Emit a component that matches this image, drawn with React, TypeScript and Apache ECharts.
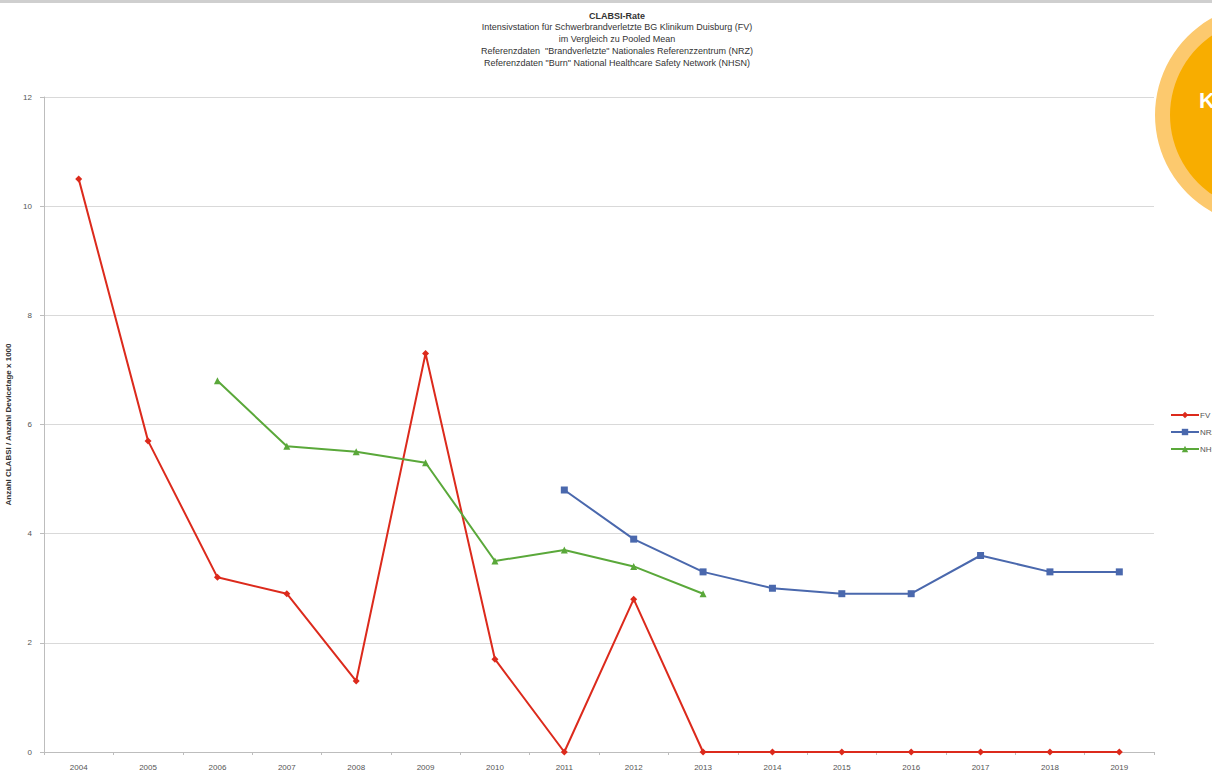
import React, { useEffect, useRef } from "react";
import * as echarts from "echarts";

const years = ["2004","2005","2006","2007","2008","2009","2010","2011","2012","2013","2014","2015","2016","2017","2018","2019"];
const fv = [10.5, 5.7, 3.2, 2.9, 1.3, 7.3, 1.7, 0, 2.8, 0, 0, 0, 0, 0, 0, 0];
const nrz = [null, null, null, null, null, null, null, 4.8, 3.9, 3.3, 3.0, 2.9, 2.9, 3.6, 3.3, 3.3];
const nhsn = [null, null, 6.8, 5.6, 5.5, 5.3, 3.5, 3.7, 3.4, 2.9, null, null, null, null, null, null];
const yTicks = [0, 2, 4, 6, 8, 10, 12];

export default function App() {
  const ref = useRef<HTMLDivElement>(null);
  useEffect(() => {
    if (!ref.current) return;
    const chart = echarts.init(ref.current, null, { renderer: "svg" });
    const font = "Liberation Sans, Arial, sans-serif";
    chart.setOption({
      animation: false,
      backgroundColor: "#ffffff",
      textStyle: { fontFamily: font },
      title: {
        text: "CLABSI-Rate",
        subtext:
          "Intensivstation für Schwerbrandverletzte BG Klinikum Duisburg (FV)\nim Vergleich zu Pooled Mean\nReferenzdaten  \"Brandverletzte\" Nationales Referenzzentrum (NRZ)\nReferenzdaten \"Burn\" National Healthcare Safety Network (NHSN)",
        left: 612,
        textAlign: "center",
        top: 6,
        itemGap: 1,
        textStyle: { fontSize: 9, fontWeight: "bold", color: "#333", fontFamily: font },
        subtextStyle: { fontSize: 9, color: "#333", lineHeight: 12, fontFamily: font },
      },
      legend: {
        orient: "vertical",
        left: 1165,
        top: 406,
        itemGap: 9,
        itemWidth: 28,
        itemHeight: 8,
        inactiveColor: "#555",
        textStyle: { fontSize: 8, color: "#555", padding: [0, 0, 0, -4] },
        data: ["FV", "NRZ", "NHSN"],
      },
      grid: { left: 44, right: 58, top: 97, bottom: 25, containLabel: false, outerBoundsMode: "none" },
      xAxis: {
        type: "category",
        data: years,
        boundaryGap: true,
        axisLine: { lineStyle: { color: "#bdbdbd", width: 1 } },
        axisTick: { show: true, length: 3, lineStyle: { color: "#bdbdbd" } },
        axisLabel: { fontSize: 8, color: "#555", margin: 11 },
      },
      yAxis: {
        type: "value",
        min: 0,
        max: 12,
        interval: 2,
        name: "Anzahl CLABSI / Anzahl Devicetage x 1000",
        nameLocation: "middle",
        nameGap: 29,
        nameTextStyle: { fontSize: 8, fontWeight: "bold", color: "#333" },
        axisLine: { show: true, lineStyle: { color: "#bdbdbd" } },
        axisTick: { show: true, length: 4, lineStyle: { color: "#bdbdbd" } },
        axisLabel: {
          fontSize: 8,
          color: "#555",
          margin: 12,
          formatter: (v: number) => (yTicks.includes(v) ? String(v) : ""),
        },
        splitLine: { lineStyle: { color: "#d9d9d9", width: 1 } },
      },
      series: [
        {
          name: "FV",
          type: "line",
          data: fv,
          color: "#dc2a1c",
          symbol: "diamond",
          symbolSize: 7,
          lineStyle: { width: 2, color: "#dc2a1c" },
          itemStyle: { color: "#dc2a1c" },
        },
        {
          name: "NRZ",
          type: "line",
          data: nrz,
          color: "#4a68ad",
          symbol: "rect",
          symbolSize: 7,
          lineStyle: { width: 2, color: "#4a68ad" },
          itemStyle: { color: "#4a68ad" },
        },
        {
          name: "NHSN",
          type: "line",
          data: nhsn,
          color: "#5aa83a",
          symbol: "triangle",
          symbolSize: 7,
          lineStyle: { width: 2, color: "#5aa83a" },
          itemStyle: { color: "#5aa83a" },
        },
      ],
      graphic: [
        { type: "rect", left: 0, top: 0, shape: { width: 1212, height: 3 }, style: { fill: "#cfcfcf" }, z: 10 },
        { type: "circle", shape: { cx: 1266, cy: 115, r: 111 }, style: { fill: "#fcc96e" }, z: 10 },
        { type: "circle", shape: { cx: 1266, cy: 115, r: 96 }, style: { fill: "#f8ad00" }, z: 11 },
        {
          type: "text",
          x: 1199,
          y: 89,
          z: 12,
          style: { text: "K", fill: "#ffffff", font: "bold 22px Liberation Sans, Arial, sans-serif" },
        },
      ],
    });
    return () => chart.dispose();
  }, []);
  return <div ref={ref} style={{ position: "fixed", left: 0, top: 0, width: 1212, height: 777 }} />;
}
